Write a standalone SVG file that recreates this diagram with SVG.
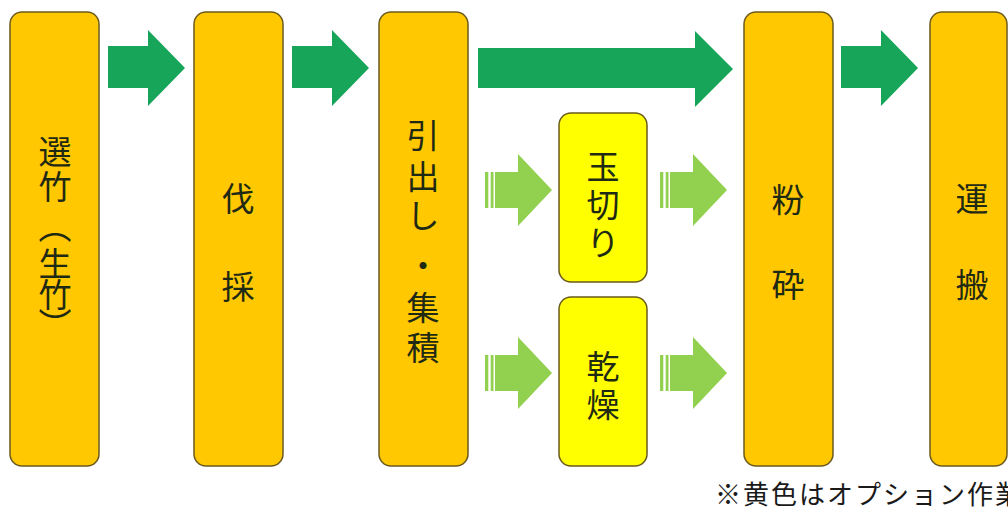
<svg xmlns="http://www.w3.org/2000/svg" xmlns:xlink="http://www.w3.org/1999/xlink" width="1008" height="510" viewBox="0 0 1008 510">
<style>
.box{fill:#FFC800;stroke:#6a5a1e;stroke-width:1.5}
.opt{fill:#FFFF00;stroke:#6a5a1e;stroke-width:1.5}
.t{font-family:"Noto Sans CJK JP","Noto Sans",sans-serif;font-size:33px;fill:#1f2a14;text-anchor:middle;dominant-baseline:central}
.dark{fill:#17A55A}
.light{fill:#92D050}
.note{font-family:"Noto Sans CJK JP","Noto Sans",sans-serif;font-size:26px;fill:#1a1a1a;letter-spacing:2px}
</style>
<defs>
<g id="larrow">
<rect class="light" x="0" y="-18" width="3.3" height="36"/>
<rect class="light" x="5.7" y="-18" width="2.8" height="36"/>
<polygon class="light" points="10,-18 33,-18 33,-36 67,0 33,36 33,18 10,18"/>
</g>
</defs>
<rect width="1008" height="510" fill="#ffffff"/>
<g id="connectors">
<polygon class="dark" points="108,46 148,46 148,30 185,68 148,106 148,88 108,88"/>
<polygon class="dark" points="292,46 332,46 332,30 369,68 332,106 332,88 292,88"/>
<polygon class="dark" points="478,48 695,48 695,31 733,69 695,107 695,88 478,88"/>
<polygon class="dark" points="841,46 881,46 881,30 918,68 881,106 881,88 841,88"/>
<use xlink:href="#larrow" x="485" y="190"/>
<use xlink:href="#larrow" x="660" y="190"/>
<use xlink:href="#larrow" x="485" y="373"/>
<use xlink:href="#larrow" x="660" y="373"/>
</g>
<g id="node-senchiku">
<rect class="box" x="10" y="12" width="89" height="454" rx="12"/>
<text class="t" x="55" y="150">選</text>
<text class="t" x="55" y="185">竹</text>
<text class="t" x="55" y="225">︵</text>
<text class="t" x="55" y="262">生</text>
<text class="t" x="55" y="293">竹</text>
<text class="t" x="55" y="323">︶</text>
</g>
<g id="node-bassai">
<rect class="box" x="194" y="12" width="89" height="454" rx="12"/>
<text class="t" x="238" y="197">伐</text>
<text class="t" x="238" y="285">採</text>
</g>
<g id="node-hikidashi">
<rect class="box" x="379" y="12" width="89" height="454" rx="12"/>
<text class="t" x="423" y="134">引</text>
<text class="t" x="423" y="175">出</text>
<text class="t" x="423" y="214">し</text>
<text class="t" x="423" y="264">・</text>
<text class="t" x="423" y="306">集</text>
<text class="t" x="423" y="346">積</text>
</g>
<g id="node-tamagiri">
<rect class="opt" x="559" y="113" width="88" height="169" rx="12"/>
<text class="t" x="603" y="165">玉</text>
<text class="t" x="603" y="203">切</text>
<text class="t" x="603" y="241">り</text>
</g>
<g id="node-kansou">
<rect class="opt" x="559" y="297" width="88" height="169" rx="12"/>
<text class="t" x="603" y="365">乾</text>
<text class="t" x="603" y="403">燥</text>
</g>
<g id="node-funsai">
<rect class="box" x="744" y="12" width="89" height="454" rx="12"/>
<text class="t" x="788" y="198">粉</text>
<text class="t" x="788" y="283">砕</text>
</g>
<g id="node-unpan">
<rect class="box" x="930" y="12" width="77" height="454" rx="12"/>
<text class="t" x="972" y="197">運</text>
<text class="t" x="972" y="283">搬</text>
</g>
<text class="note" x="715" y="504">※黄色はオプション作業</text>
</svg>
